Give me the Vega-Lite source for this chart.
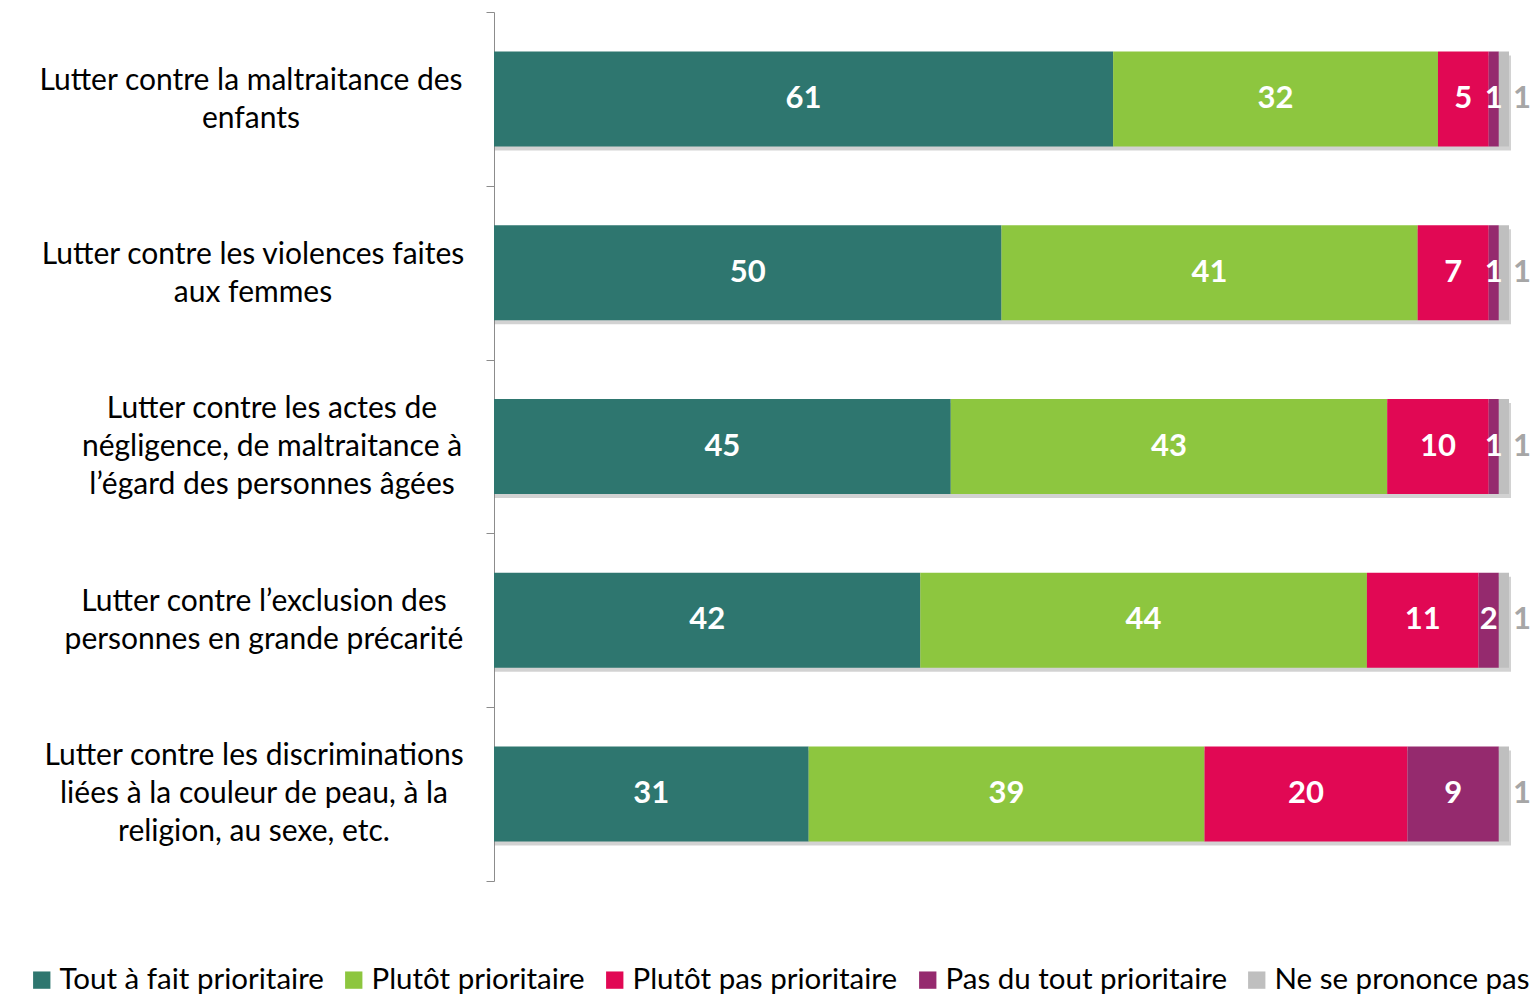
{
  "$schema": "https://vega.github.io/schema/vega-lite/v6.json",
  "width": 1015,
  "height": 869,
  "autosize": {"type": "none"},
  "padding": {"left": 494, "top": 12, "right": 24, "bottom": 120},
  "background": "white",
  "config": {"view": {"stroke": null}, "font": "Lato"},
  "data": {
    "values": [
      {"item": "Lutter contre la maltraitance des|enfants", "rep": "Tout à fait prioritaire", "k": 1, "value": 61},
      {"item": "Lutter contre la maltraitance des|enfants", "rep": "Plutôt prioritaire", "k": 2, "value": 32},
      {"item": "Lutter contre la maltraitance des|enfants", "rep": "Plutôt pas prioritaire", "k": 3, "value": 5},
      {"item": "Lutter contre la maltraitance des|enfants", "rep": "Pas du tout prioritaire", "k": 4, "value": 1},
      {"item": "Lutter contre la maltraitance des|enfants", "rep": "Ne se prononce pas", "k": 5, "value": 1},
      {"item": "Lutter contre les violences faites|aux femmes", "rep": "Tout à fait prioritaire", "k": 1, "value": 50},
      {"item": "Lutter contre les violences faites|aux femmes", "rep": "Plutôt prioritaire", "k": 2, "value": 41},
      {"item": "Lutter contre les violences faites|aux femmes", "rep": "Plutôt pas prioritaire", "k": 3, "value": 7},
      {"item": "Lutter contre les violences faites|aux femmes", "rep": "Pas du tout prioritaire", "k": 4, "value": 1},
      {"item": "Lutter contre les violences faites|aux femmes", "rep": "Ne se prononce pas", "k": 5, "value": 1},
      {"item": "Lutter contre les actes de|négligence, de maltraitance à|l’égard des personnes âgées", "rep": "Tout à fait prioritaire", "k": 1, "value": 45},
      {"item": "Lutter contre les actes de|négligence, de maltraitance à|l’égard des personnes âgées", "rep": "Plutôt prioritaire", "k": 2, "value": 43},
      {"item": "Lutter contre les actes de|négligence, de maltraitance à|l’égard des personnes âgées", "rep": "Plutôt pas prioritaire", "k": 3, "value": 10},
      {"item": "Lutter contre les actes de|négligence, de maltraitance à|l’égard des personnes âgées", "rep": "Pas du tout prioritaire", "k": 4, "value": 1},
      {"item": "Lutter contre les actes de|négligence, de maltraitance à|l’égard des personnes âgées", "rep": "Ne se prononce pas", "k": 5, "value": 1},
      {"item": "Lutter contre l’exclusion des|personnes en grande précarité", "rep": "Tout à fait prioritaire", "k": 1, "value": 42},
      {"item": "Lutter contre l’exclusion des|personnes en grande précarité", "rep": "Plutôt prioritaire", "k": 2, "value": 44},
      {"item": "Lutter contre l’exclusion des|personnes en grande précarité", "rep": "Plutôt pas prioritaire", "k": 3, "value": 11},
      {"item": "Lutter contre l’exclusion des|personnes en grande précarité", "rep": "Pas du tout prioritaire", "k": 4, "value": 2},
      {"item": "Lutter contre l’exclusion des|personnes en grande précarité", "rep": "Ne se prononce pas", "k": 5, "value": 1},
      {"item": "Lutter contre les discriminations|liées à la couleur de peau, à la|religion, au sexe, etc.", "rep": "Tout à fait prioritaire", "k": 1, "value": 31},
      {"item": "Lutter contre les discriminations|liées à la couleur de peau, à la|religion, au sexe, etc.", "rep": "Plutôt prioritaire", "k": 2, "value": 39},
      {"item": "Lutter contre les discriminations|liées à la couleur de peau, à la|religion, au sexe, etc.", "rep": "Plutôt pas prioritaire", "k": 3, "value": 20},
      {"item": "Lutter contre les discriminations|liées à la couleur de peau, à la|religion, au sexe, etc.", "rep": "Pas du tout prioritaire", "k": 4, "value": 9},
      {"item": "Lutter contre les discriminations|liées à la couleur de peau, à la|religion, au sexe, etc.", "rep": "Ne se prononce pas", "k": 5, "value": 1}
    ]
  },
  "encoding": {
    "y": {
      "field": "item",
      "type": "nominal",
      "sort": null,
      "scale": {"paddingInner": 0, "paddingOuter": 0},
      "axis": {
        "title": null,
        "labels": false,
        "domainColor": "#8c8c8c",
        "tickColor": "#8c8c8c",
        "tickSize": 8,
        "tickBand": "extent"
      }
    }
  },
  "layer": [
    {
      "mark": {"type": "bar", "color": "#7f7f7f", "opacity": 0.35, "yOffset": 4, "xOffset": 2, "size": 95},
      "encoding": {
        "x": {"aggregate": "sum", "field": "value", "type": "quantitative", "scale": {"domain": [0, 100], "nice": false}, "axis": null}
      }
    },
    {
      "mark": {"type": "bar", "size": 95},
      "encoding": {
        "x": {"field": "value", "type": "quantitative", "stack": "zero", "scale": {"domain": [0, 100], "nice": false}, "axis": null},
        "order": {"field": "k", "type": "quantitative"},
        "color": {
          "field": "rep",
          "type": "nominal",
          "scale": {
            "domain": ["Tout à fait prioritaire", "Plutôt prioritaire", "Plutôt pas prioritaire", "Pas du tout prioritaire", "Ne se prononce pas"],
            "range": ["#2E766F", "#8DC63F", "#E10854", "#952A6E", "#BFBFBF"]
          },
          "legend": {
            "orient": "none",
            "legendX": -467,
            "legendY": 953,
            "direction": "horizontal",
            "title": null,
            "symbolType": "square",
            "symbolSize": 300,
            "symbolStrokeWidth": 0,
            "labelFont": "Lato",
            "labelFontSize": 29.5,
            "labelLimit": 500,
            "labelColor": "black",
            "labelOffset": 3,
            "columnPadding": 15
          }
        }
      }
    },
    {
      "transform": [{"filter": "datum.k === 1"}],
      "mark": {
        "type": "text",
        "font": "Lato",
        "fontSize": 30,
        "color": "black",
        "align": "center",
        "baseline": "middle",
        "lineBreak": "|",
        "lineHeight": 38,
        "dx": {"expr": "indexof(datum.item, 'enfants') >= 0 ? -243 : indexof(datum.item, 'femmes') >= 0 ? -241 : indexof(datum.item, 'âgées') >= 0 ? -222 : indexof(datum.item, 'précarité') >= 0 ? -230 : -240"},
        "dy": {"expr": "(indexof(datum.item, 'âgées') >= 0 || indexof(datum.item, 'religion') >= 0) ? -38 : -18"}
      },
      "encoding": {
        "x": {"datum": 0, "type": "quantitative"},
        "text": {"field": "item", "type": "nominal"}
      }
    },
    {
      "transform": [{"filter": "datum.rep !== 'Ne se prononce pas'"}],
      "mark": {"type": "text", "color": "white", "fontWeight": "bold", "fontSize": 31, "font": "Lato", "baseline": "middle", "align": "center"},
      "encoding": {
        "x": {"field": "value", "type": "quantitative", "stack": "zero", "bandPosition": 0.5, "scale": {"domain": [0, 100], "nice": false}},
        "order": {"field": "k", "type": "quantitative"},
        "detail": {"field": "rep", "type": "nominal"},
        "text": {"field": "value", "type": "quantitative"}
      }
    },
    {
      "transform": [{"filter": "datum.rep === 'Ne se prononce pas'"}],
      "mark": {"type": "text", "color": "#A6A6A6", "fontWeight": "bold", "fontSize": 31, "font": "Lato", "baseline": "middle", "align": "left", "dx": 4},
      "encoding": {
        "x": {"datum": 100, "type": "quantitative"},
        "text": {"field": "value", "type": "quantitative"}
      }
    }
  ]
}
